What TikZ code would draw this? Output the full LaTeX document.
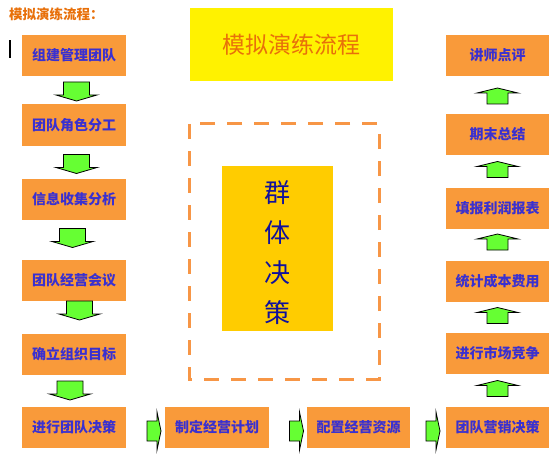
\documentclass[tikz,border=0pt]{standalone}
\usepackage{fontspec}
\newfontfamily\cjk{Noto Sans CJK SC}
\definecolor{boxorange}{HTML}{F99A3A}
\definecolor{txtblue}{HTML}{3A30D0}
\definecolor{titleorange}{HTML}{E8700A}
\definecolor{arrgreen}{HTML}{66FF33}
\definecolor{dashorange}{HTML}{F79646}
\definecolor{gold}{HTML}{FFCC00}
\definecolor{navy}{HTML}{10109C}
\tikzset{
  stepbox/.style={fill=boxorange, minimum width=104pt, minimum height=41pt, inner sep=0pt,
    font=\cjk\bfseries\fontsize{14}{14}\selectfont, text=txtblue},
  arrstyle/.style={fill=arrgreen, draw=black, line width=0.8pt, line join=miter},
  downarr/.pic={\draw[arrstyle] (-13,-9) -- (13,-9) -- (13,4) -- (20.5,4) -- (0,10) -- (-20.5,4) -- (-13,4) -- cycle;},
  uparr/.pic={\draw[arrstyle] (0,-8) -- (20.5,-3) -- (10.5,-3) -- (10.5,8) -- (-10.5,8) -- (-10.5,-3) -- (-20.5,-3) -- cycle;},
  rightarr/.pic={\draw[arrstyle] (-7,-10) -- (3,-10) -- (3,-19) -- (7,0) -- (3,19) -- (3,10) -- (-7,10) -- cycle;}
}
\begin{document}
\begin{tikzpicture}[x=1pt,y=-1pt]
\useasboundingbox[fill=white] (0,0) rectangle (559,468);
% top-left caption
\node[anchor=west, inner sep=0pt, font=\cjk\bfseries\fontsize{13.5}{14}\selectfont, text=titleorange] (cap) at (9,14) {模拟演练流程：};
\fill[black] (9,40) rectangle (11,58);
% title box
\node[fill=yellow, minimum width=203pt, minimum height=73pt, inner sep=0pt,
  font=\cjk\fontsize{23}{24}\selectfont, text=titleorange] (title) at (291.5,44.5) {模拟演练流程};
% dashed frame and centre box
\draw[dashorange, line width=3pt, dash pattern=on 15pt off 12pt] (189,124) rectangle (379,379);
\node[fill=gold, minimum width=111pt, minimum height=165pt, inner sep=0pt] (grp) at (277.5,248.5) {};
\foreach \c/\yy in {群/193, 体/233, 决/273, 策/313}
  \node[font=\cjk\fontsize{26}{26}\selectfont, text=navy, inner sep=0pt] at (277,\yy) {\c};
% left column
\node[stepbox] (l1) at (74,55.5) {组建管理团队};
\node[stepbox] (l2) at (74,125) {团队角色分工};
\node[stepbox] (l3) at (74,199) {信息收集分析};
\node[stepbox] (l4) at (74,280) {团队经营会议};
\node[stepbox] (l5) at (74,354) {确立组织目标};
\node[stepbox] (l6) at (74,427) {进行团队决策};
% bottom row
\node[stepbox] (b1) at (217,427) {制定经营计划};
\node[stepbox, minimum width=103pt] (b2) at (358.5,427) {配置经营资源};
\node[stepbox, minimum width=103pt] (r6) at (497.5,427) {团队营销决策};
% right column
\node[stepbox, minimum width=103pt] (r5) at (497.5,353.5) {进行市场竞争};
\node[stepbox, minimum width=103pt] (r4) at (497.5,281) {统计成本费用};
\node[stepbox, minimum width=103pt] (r3) at (497.5,208) {填报利润报表};
\node[stepbox, minimum width=103pt] (r2) at (497.5,134.5) {期末总结};
\node[stepbox, minimum width=103pt] (r1) at (497.5,55.5) {讲师点评};
% down arrows
\pic at (76.5,91) {downarr};
\pic at (76.5,163.5) {downarr};
\pic at (72.5,237.5) {downarr};
\pic at (79.5,310) {downarr};
\pic at (70,390) {downarr};
% right arrows
\pic at (154,431) {rightarr};
\pic at (296.5,431) {rightarr};
\pic at (433,431) {rightarr};
% up arrows
\pic at (497.5,96) {uparr};
\pic at (497.5,169.5) {uparr};
\pic at (497.5,242) {uparr};
\pic at (497.5,315.5) {uparr};
\pic at (497.5,388.5) {uparr};
\end{tikzpicture}
\end{document}
